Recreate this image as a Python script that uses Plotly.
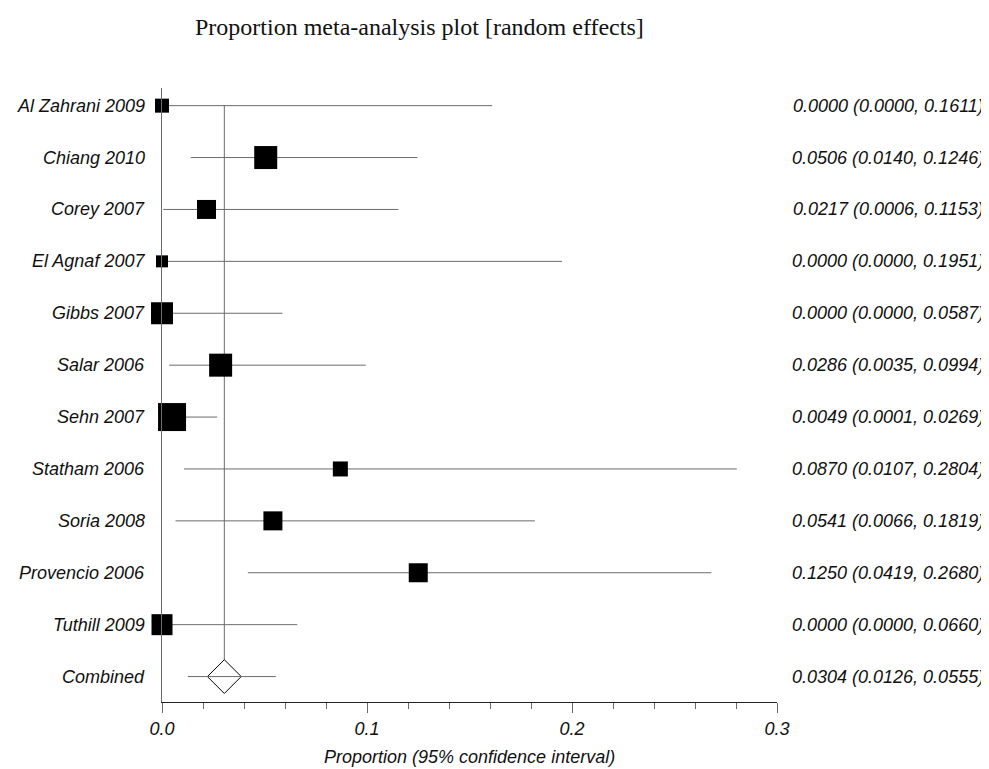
import plotly.graph_objects as go

studies = ["Al Zahrani 2009", "Chiang 2010", "Corey 2007", "El Agnaf 2007", "Gibbs 2007",
           "Salar 2006", "Sehn 2007", "Statham 2006", "Soria 2008", "Provencio 2006", "Tuthill 2009"]
proportion = [0.0000, 0.0506, 0.0217, 0.0000, 0.0000, 0.0286, 0.0049, 0.0870, 0.0541, 0.1250, 0.0000]
ci_low = [0.0000, 0.0140, 0.0006, 0.0000, 0.0000, 0.0035, 0.0001, 0.0107, 0.0066, 0.0419, 0.0000]
ci_high = [0.1611, 0.1246, 0.1153, 0.1951, 0.0587, 0.0994, 0.0269, 0.2804, 0.1819, 0.2680, 0.0660]
weight_box_px = [14, 23, 19, 12, 22, 23, 28, 15, 19, 19, 21]

combined_label = "Combined"
combined_est = 0.0304
combined_low = 0.0126
combined_high = 0.0555

x_ticks = [0.0, 0.1, 0.2, 0.3]

n = len(studies)
rows = list(range(n))
comb_row = n

LINE_GRAY = "#6b6b6b"
FONT = "Arial, Liberation Sans, sans-serif"
TXT = "#111111"

fig = go.Figure()

# combined estimate vertical line (from first study row to combined row)
fig.add_trace(go.Scatter(
    x=[combined_est, combined_est], y=[rows[0], comb_row], mode="lines",
    line=dict(color=LINE_GRAY, width=1), hoverinfo="skip", showlegend=False))

# study CIs and boxes
fig.add_trace(go.Scatter(
    x=proportion, y=rows, mode="markers",
    marker=dict(symbol="square", size=weight_box_px, color="black", opacity=1, line=dict(width=0)),
    error_x=dict(type="data", symmetric=False,
                 array=[h - p for h, p in zip(ci_high, proportion)],
                 arrayminus=[p - l for p, l in zip(proportion, ci_low)],
                 color=LINE_GRAY, thickness=1, width=0),
    cliponaxis=False, showlegend=False))

# combined diamond
fig.add_trace(go.Scatter(
    x=[combined_est], y=[comb_row], mode="markers",
    marker=dict(symbol="diamond", size=26, color="white", opacity=1, line=dict(color="black", width=1)),
    cliponaxis=False, showlegend=False))

# combined CI line
fig.add_trace(go.Scatter(
    x=[combined_est], y=[comb_row], mode="markers",
    marker=dict(size=1, opacity=0),
    error_x=dict(type="data", symmetric=False,
                 array=[combined_high - combined_est],
                 arrayminus=[combined_est - combined_low],
                 color=LINE_GRAY, thickness=1, width=0),
    cliponaxis=False, showlegend=False))

labels = studies + [combined_label]
ests = proportion + [combined_est]
lows = ci_low + [combined_low]
highs = ci_high + [combined_high]
annotations = []
for i, (lab, e, l, h) in enumerate(zip(labels, ests, lows, highs)):
    annotations.append(dict(
        x=0, xref="paper", y=i, yref="y", xanchor="right", yanchor="middle",
        xshift=-15, text=f"<i>{lab}</i>", showarrow=False,
        font=dict(family=FONT, size=18, color=TXT)))
    annotations.append(dict(
        x=1, xref="paper", y=i, yref="y", xanchor="right", yanchor="middle",
        xshift=209, text=f"<i>{e:.4f} ({l:.4f}, {h:.4f})</i>", showarrow=False,
        font=dict(family=FONT, size=18, color=TXT)))

annotations.append(dict(
    x=0.5, xref="paper", y=-0.0896, yref="paper", xanchor="center", yanchor="middle",
    text="<i>Proportion (95% confidence interval)</i>", showarrow=False,
    font=dict(family=FONT, size=18, color=TXT)))
annotations.append(dict(
    x=(193 - 162) / 615, xref="paper", y=1.099, yref="paper", xanchor="left", yanchor="middle",
    text="Proportion meta-analysis plot [random effects]", showarrow=False,
    font=dict(family="Times New Roman, Liberation Serif, serif", size=24, color=TXT)))

fig.update_layout(
    width=981, height=761,
    margin=dict(l=154, r=212, t=80, b=67),
    paper_bgcolor="white", plot_bgcolor="white",
    annotations=annotations,
    xaxis=dict(range=[0, 0.3], tickvals=x_ticks, ticktext=[f"<i>{t:.1f}</i>" for t in x_ticks],
               ticks="outside", ticklen=10, tickcolor=LINE_GRAY, tickwidth=1,
               minor=dict(dtick=0.02, tick0=0, ticks="outside", ticklen=6, tickcolor=LINE_GRAY, tickwidth=1,
                          showgrid=False),
               showline=True, linecolor="#222222", linewidth=1, showgrid=False, zeroline=False,
               tickfont=dict(family=FONT, size=18, color=TXT)),
    yaxis=dict(range=[n + 0.49, -0.34], showticklabels=False, ticks="",
               showline=True, linecolor=LINE_GRAY, linewidth=1, showgrid=False, zeroline=False),
)

fig.write_html("out.html")
